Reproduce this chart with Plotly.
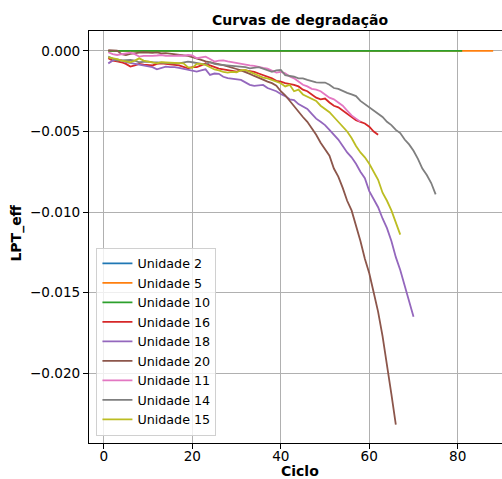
import plotly.graph_objects as go

# ---- data ----
names = ["Unidade 2", "Unidade 5", "Unidade 10", "Unidade 16", "Unidade 18",
         "Unidade 20", "Unidade 11", "Unidade 14", "Unidade 15"]
colors = ["#1f77b4", "#ff7f0e", "#2ca02c", "#d62728", "#9467bd",
          "#8c564b", "#e377c2", "#7f7f7f", "#bcbd22"]

u2 = [0.0] * 69
u5 = [0.0] * 88
u10 = [0.0] * 81

u16 = [-0.00045, -0.0006, -0.00065, -0.0007, -0.0008, -0.00097, -0.0009, -0.0008, -0.00085, -0.00087,
       -0.0009, -0.0008, -0.00077, -0.0008, -0.00085, -0.00087, -0.0009, -0.001, -0.00108, -0.001,
       -0.001, -0.0009, -0.00077, -0.0009, -0.001, -0.0011, -0.00114, -0.0012, -0.00125, -0.00128,
       -0.0012, -0.0012, -0.00125, -0.0013, -0.0014, -0.0015, -0.0016, -0.0017, -0.00185, -0.0019,
       -0.0020, -0.00205, -0.0021, -0.0022, -0.0024, -0.0025, -0.0027, -0.0029, -0.0030, -0.00295,
       -0.0032, -0.0034, -0.0035, -0.0037, -0.0039, -0.0041, -0.0043, -0.0044, -0.0045, -0.0047,
       -0.0050, -0.0052]

u18 = [-0.00077, -0.0006, -0.00052, -0.00058, -0.0007, -0.00075, -0.0008, -0.00087, -0.0009, -0.00097,
       -0.001, -0.00114, -0.00105, -0.00097, -0.001, -0.001, -0.00105, -0.0011, -0.00118, -0.0012,
       -0.00128, -0.0012, -0.00114, -0.00149, -0.0014, -0.00142, -0.0016, -0.00168, -0.00172, -0.00178,
       -0.0018, -0.00195, -0.0021, -0.00217, -0.00212, -0.00211, -0.0023, -0.0024, -0.0025, -0.00267,
       -0.0028, -0.003, -0.00305, -0.0033, -0.00345, -0.0036, -0.0039, -0.0042, -0.0044, -0.0046,
       -0.0049, -0.0052, -0.0055, -0.0059, -0.0063, -0.0066, -0.0070, -0.0075, -0.0079, -0.0087,
       -0.0092, -0.0097, -0.0104, -0.0110, -0.0118, -0.0128, -0.0136, -0.0146, -0.0156, -0.0165]

u20 = [0.00005, 0.00004, 0.00002, -0.0002, -0.00025, -0.00018, -0.00012, -0.0001, -0.00008, -0.0001,
       -0.00012, -0.00009, -0.00015, -0.00013, -0.00016, -0.00018, -0.0002, -0.00025, -0.0003, -0.00038,
       -0.00045, -0.00055, -0.00065, -0.0007, -0.00075, -0.00082, -0.00088, -0.00095, -0.00105, -0.00112,
       -0.0012, -0.0013, -0.00142, -0.00155, -0.00165, -0.00178, -0.0019, -0.002, -0.00215, -0.0025,
       -0.00275, -0.0031, -0.0034, -0.00375, -0.0041, -0.0044, -0.0048, -0.0052, -0.0057, -0.0061,
       -0.0065, -0.0073, -0.0078, -0.0085, -0.0093, -0.0099, -0.0108, -0.0118, -0.0129, -0.0138,
       -0.0150, -0.0162, -0.0177, -0.0194, -0.0213, -0.0232]

u11 = [-0.00008, -0.0002, -0.00025, -0.0002, -0.00012, -0.0001, -0.0002, -0.00035, -0.0003, -0.00032,
       -0.0003, -0.00028, -0.00025, -0.0003, -0.00032, -0.0003, -0.00028, -0.0003, -0.00025, -0.00028,
       -0.00045, -0.0004, -0.00035, -0.0005, -0.00066, -0.0006, -0.00058, -0.00065, -0.0007, -0.00077,
       -0.0008, -0.00085, -0.0009, -0.00092, -0.001, -0.00105, -0.0011, -0.0012, -0.00134, -0.0013,
       -0.00139, -0.00159, -0.0017, -0.0019, -0.0021, -0.0022, -0.00235, -0.0024, -0.0025, -0.0027,
       -0.0029, -0.0030, -0.0032, -0.0034, -0.0037, -0.0040, -0.0042, -0.0044]

u14 = [-0.00035, -0.0005, -0.0006, -0.00058, -0.00055, -0.00056, -0.0006, -0.0007, -0.00068, -0.00066,
       -0.0007, -0.00072, -0.00075, -0.00077, -0.00077, -0.00077, -0.00077, -0.0007, -0.00066, -0.0007,
       -0.00075, -0.0008, -0.00085, -0.0007, -0.0008, -0.00085, -0.00087, -0.0009, -0.00095, -0.00097,
       -0.00097, -0.001, -0.00108, -0.00105, -0.001, -0.0011, -0.00118, -0.0013, -0.0012, -0.00118,
       -0.0015, -0.00155, -0.0016, -0.0017, -0.0017, -0.0018, -0.0019, -0.00195, -0.00196, -0.00196,
       -0.0021, -0.0023, -0.00235, -0.0025, -0.0026, -0.0027, -0.0028, -0.0031, -0.0033, -0.0035,
       -0.0037, -0.0039, -0.0041, -0.0044, -0.0046, -0.0049, -0.0051, -0.0055, -0.0058, -0.0062,
       -0.0067, -0.0073, -0.0077, -0.0082, -0.0089]

u15 = [-0.0004, -0.00045, -0.0005, -0.0006, -0.00066, -0.0007, -0.0006, -0.00046, -0.0006, -0.00066,
       -0.0007, -0.00077, -0.0007, -0.00072, -0.0007, -0.00075, -0.00075, -0.00077, -0.001, -0.00105,
       -0.0008, -0.0008, -0.00087, -0.001, -0.00115, -0.0012, -0.0013, -0.00134, -0.0013, -0.00132,
       -0.0012, -0.00118, -0.0013, -0.0014, -0.0015, -0.00165, -0.0017, -0.0018, -0.0019, -0.002,
       -0.0022, -0.0021, -0.0025, -0.0024, -0.0027, -0.00285, -0.003, -0.0031, -0.0034, -0.0036,
       -0.0038, -0.0041, -0.0044, -0.0047, -0.0050, -0.0054, -0.0059, -0.0063, -0.0066, -0.0070,
       -0.0075, -0.0080, -0.0088, -0.0093, -0.0099, -0.0106, -0.0114]

series = [u2, u5, u10, u16, u18, u20, u11, u14, u15]

x_ticks = [0, 20, 40, 60, 80]
y_ticks = [0.0, -0.005, -0.010, -0.015, -0.020]

FONT = "DejaVu Sans"

fig = go.Figure()
for name, col, vals in zip(names, colors, series):
    fig.add_trace(go.Scatter(
        x=list(range(1, len(vals) + 1)), y=vals, mode="lines", name=name,
        line=dict(color=col, width=1.8)))

fig.update_layout(
    width=502, height=479,
    margin=dict(l=89.3, r=0, t=31, b=35.7),
    paper_bgcolor="white", plot_bgcolor="white",
    font=dict(family=FONT, size=13.6, color="black"),
    showlegend=True,
    legend=dict(x=0.018, y=0.018, xanchor="left", yanchor="bottom",
                bgcolor="rgba(255,255,255,0.8)", bordercolor="#d0d0d0", borderwidth=1,
                font=dict(family=FONT, size=12.7, color="black"),
                traceorder="normal"),
    xaxis=dict(range=[-3.35, 90.0], tickvals=x_ticks, ticks="outside", ticklen=5,
               tickwidth=1, tickcolor="black", showline=True, linecolor="black",
               linewidth=1.1, mirror=True, showgrid=True, gridcolor="#b0b0b0",
               gridwidth=1.1, zeroline=False, ticklabelstandoff=-4),
    yaxis=dict(range=[-0.02434, 0.00124], tickvals=y_ticks, tickformat=".3f",
               ticks="outside", ticklen=5, tickwidth=1, tickcolor="black",
               showline=True, linecolor="black", linewidth=1.1, mirror=False,
               showgrid=True, gridcolor="#b0b0b0", gridwidth=1.1, zeroline=False),
    annotations=[
        dict(text="<b>Curvas de degradação</b>", x=0.512, y=1.0267, xref="paper",
             yref="paper", xanchor="center", yanchor="middle", showarrow=False,
             font=dict(family=FONT, size=14, color="black")),
        dict(text="<b>Ciclo</b>", x=0.512, y=-0.069, xref="paper", yref="paper",
             xanchor="center", yanchor="middle", showarrow=False,
             font=dict(family=FONT, size=14, color="black")),
        dict(text="<b>LPT_eff</b>", x=-0.175, y=0.51, xref="paper", yref="paper",
             xanchor="center", yanchor="middle", showarrow=False, textangle=-90,
             font=dict(family=FONT, size=14, color="black")),
    ],
)

fig.write_html("out.html")
